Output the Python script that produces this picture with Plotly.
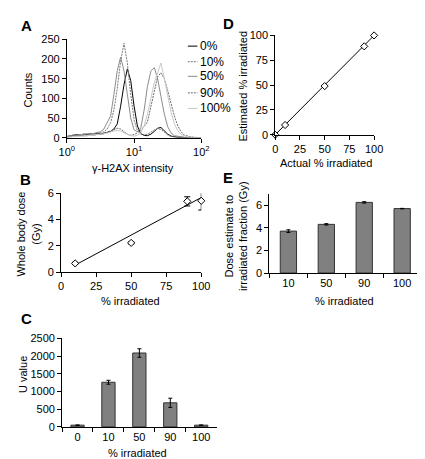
import plotly.graph_objects as go

W, H = 425, 459

# ---------------- Data ----------------
# Panel A: gamma-H2AX intensity histograms
intensity = [1.0, 1.12, 1.26, 1.41, 1.58, 1.78, 2.0, 2.24, 2.51, 2.82, 3.16, 3.55, 3.98, 4.47,
             5.01, 5.62, 6.31, 7.08, 7.94, 8.91, 10.0, 11.2, 12.6, 14.1, 15.8, 17.8, 20.0, 22.4,
             25.1, 28.2, 31.6, 35.5, 39.8, 44.7, 50.1, 56.2, 63.1, 70.8, 79.4, 89.1, 100.0]
hist_names = ["0%", "10%", "50%", "90%", "100%"]
counts_0 = [3, 5, 7, 8, 6, 9, 8, 10, 9, 11, 9, 12, 13, 16, 22, 35, 80, 135, 175, 145, 80, 30, 10,
            6, 5, 9, 16, 24, 26, 18, 9, 4, 2, 1, 1, 0, 0, 0, 0, 0, 0]
counts_10 = [2, 4, 6, 7, 8, 7, 9, 10, 9, 12, 13, 15, 22, 38, 70, 125, 195, 240, 190, 110, 45, 18,
             9, 7, 9, 14, 20, 23, 21, 14, 7, 3, 2, 1, 0, 0, 0, 0, 0, 0, 0]
counts_50 = [3, 5, 7, 6, 8, 9, 10, 9, 11, 13, 15, 22, 38, 55, 110, 170, 205, 170, 110, 50, 20, 15,
             25, 70, 130, 170, 178, 150, 105, 60, 28, 12, 5, 3, 2, 1, 0, 0, 0, 0, 0]
counts_90 = [1, 3, 4, 5, 5, 6, 5, 7, 6, 8, 9, 10, 14, 18, 22, 24, 22, 15, 9, 6, 8, 12, 20, 28,
             40, 80, 125, 155, 165, 150, 120, 85, 55, 30, 15, 6, 3, 2, 1, 0, 0]
counts_100 = [1, 2, 3, 3, 4, 4, 5, 5, 6, 7, 8, 10, 12, 15, 18, 19, 17, 12, 8, 5, 4, 6, 12, 30,
              60, 100, 140, 165, 190, 150, 110, 65, 35, 18, 8, 4, 2, 1, 0, 0, 0]

# Panel B: whole body dose vs % irradiated
b_pct = [10, 50, 90, 100]
b_dose = [0.66, 2.22, 5.38, 5.42]
b_err = [0.08, 0.08, 0.35, 0.7]
b_fit_x = [10, 100]
b_fit_y = [0.53, 5.67]

# Panel C: U value
c_cats = ["0", "10", "50", "90", "100"]
c_u = [50, 1260, 2085, 680, 50]
c_err = [0, 55, 120, 130, 0]

# Panel D: estimated vs actual %
d_actual = [0, 10, 50, 90, 100]
d_est = [0, 9.8, 49, 89, 100]
d_fit_x = [0, 100]
d_fit_y = [0, 100]

# Panel E: dose estimate to irradiated fraction
e_cats = ["10", "50", "90", "100"]
e_dose = [3.72, 4.32, 6.27, 5.72]
e_err = [0.12, 0.06, 0.06, 0.02]

# ---------------- Layout helpers ----------------
FONT = "Liberation Sans, Arial, sans-serif"
TICKF = dict(family=FONT, size=11, color="black")


def px_x(x):
    return x / W


def px_y(y):
    return 1 - y / H


def axis_common(**kw):
    d = dict(showline=True, linecolor="black", linewidth=1, ticks="outside", ticklen=4,
             tickcolor="black", tickwidth=1, showgrid=False, zeroline=False,
             tickfont=TICKF, fixedrange=True)
    d.update(kw)
    return d


fig = go.Figure()

# Panel A
styles = [
    dict(color="black", dash="solid"),
    dict(color="#7a7a7a", dash="2px,1px"),
    dict(color="#8c8c8c", dash="solid"),
    dict(color="#6a6a6a", dash="2px,1px"),
    dict(color="#c8c8c8", dash="solid"),
]
series = [counts_0, counts_10, counts_50, counts_90, counts_100]
for name, ys, st in zip(hist_names, series, styles):
    fig.add_trace(go.Scatter(x=intensity, y=ys, mode="lines", name=name,
                             line=dict(color=st["color"], dash=st["dash"], width=1),
                             xaxis="x", yaxis="y", showlegend=False))

# Panel D
fig.add_trace(go.Scatter(x=d_fit_x, y=d_fit_y, mode="lines", line=dict(color="black", width=1),
                         xaxis="x2", yaxis="y2", showlegend=False))
fig.add_trace(go.Scatter(x=d_actual, y=d_est, mode="markers",
                         marker=dict(symbol="diamond", size=5.5, color="white",
                                     line=dict(color="black", width=1)),
                         xaxis="x2", yaxis="y2", showlegend=False, cliponaxis=False))

# Panel B
fig.add_trace(go.Scatter(x=b_fit_x, y=b_fit_y, mode="lines", line=dict(color="black", width=1),
                         xaxis="x3", yaxis="y3", showlegend=False))
fig.add_trace(go.Scatter(x=b_pct, y=b_dose, mode="markers",
                         marker=dict(symbol="diamond", size=5.5, color="white",
                                     line=dict(color="black", width=1)),
                         error_y=dict(type="data", array=b_err, color="black", thickness=1, width=3),
                         xaxis="x3", yaxis="y3", showlegend=False, cliponaxis=False))

# Panel E
fig.add_trace(go.Bar(x=e_cats, y=e_dose, width=0.43,
                     marker=dict(color="#808080", line=dict(color="#333333", width=1)),
                     error_y=dict(type="data", array=e_err, color="black", thickness=1, width=2),
                     xaxis="x4", yaxis="y4", showlegend=False))

# Panel C
fig.add_trace(go.Bar(x=c_cats, y=c_u, width=0.43,
                     marker=dict(color="#808080", line=dict(color="#333333", width=1)),
                     error_y=dict(type="data", array=c_err, color="black", thickness=1, width=2),
                     xaxis="x5", yaxis="y5", showlegend=False))

fig.update_layout(
    width=W, height=H, margin=dict(l=0, r=0, t=0, b=0),
    paper_bgcolor="white", plot_bgcolor="white",
    font=dict(family=FONT, size=11, color="black"),
    showlegend=False,
    xaxis=axis_common(domain=[px_x(53), px_x(193)], type="log", range=[0, 2],
                      tickvals=[1, 10, 100],
                      ticktext=["10<sup>0</sup>", "10<sup>1</sup>", "10<sup>2</sup>"],
                      anchor="y"),
    yaxis=axis_common(domain=[px_y(127), px_y(26)], range=[0, 250], dtick=50, anchor="x"),
    xaxis2=axis_common(domain=[px_x(270), px_x(373)], range=[0, 100], dtick=25, anchor="y2"),
    yaxis2=axis_common(domain=[px_y(124), px_y(22)], range=[0, 100], dtick=25, anchor="x2"),
    xaxis3=axis_common(domain=[px_x(47), px_x(193)], range=[0, 100], dtick=25, anchor="y3"),
    yaxis3=axis_common(domain=[px_y(265), px_y(184)], range=[0, 6], dtick=2, anchor="x3"),
    xaxis4=axis_common(domain=[px_x(264), px_x(422)], type="category", range=[-0.5, 3.5],
                       tickson="boundaries", anchor="y4"),
    yaxis4=axis_common(domain=[px_y(266), px_y(185)], range=[0, 7], tickvals=[0, 2, 4, 6],
                       anchor="x4"),
    xaxis5=axis_common(domain=[px_x(48), px_x(209)], type="category", range=[-0.5, 4.5],
                       tickson="boundaries", anchor="y5"),
    yaxis5=axis_common(domain=[px_y(424), px_y(333)], range=[0, 2500], dtick=500, anchor="x5"),
)

annotations = []


def txt(text, x, y, size=11, angle=0, bold=False, xanchor="center"):
    annotations.append(dict(text=("<b>%s</b>" % text) if bold else text,
                            x=px_x(x), y=px_y(y), xref="paper", yref="paper",
                            xanchor=xanchor, yanchor="middle", showarrow=False,
                            textangle=angle, font=dict(family=FONT, size=size, color="black")))


# Panel letters
txt("A", 3, 12, size=15, bold=True, xanchor="left")
txt("D", 214, 10, size=15, bold=True, xanchor="left")
txt("B", 2, 170, size=15, bold=True, xanchor="left")
txt("E", 214, 168, size=15, bold=True, xanchor="left")
txt("C", 3, 313, size=15, bold=True, xanchor="left")

# Axis titles
txt("γ-H2AX intensity", 122, 158)
txt("Counts", 12, 78, angle=-90)
txt("Whole body dose<br>(Gy)", 13, 226, angle=-90)
txt("% irradiated", 119, 295)
txt("U value", 8, 370, angle=-90)
txt("% irradiated", 127, 451)
txt("Estimated % irradiated", 237, 74, angle=-90)
txt("Actual % irradiated", 323, 153)
txt("Dose estimate to<br>irradiated fraction (Gy)", 229, 228, angle=-90)
txt("% irradiated", 342, 295)

# Manual legend for panel A
legend_y = [33, 49, 64, 81, 97]
shapes = []
for name, st, ly in zip(hist_names, styles, legend_y):
    shapes.append(dict(type="line", xref="paper", yref="paper",
                       x0=px_x(179), x1=px_x(189), y0=px_y(ly), y1=px_y(ly),
                       line=dict(color=st["color"], dash=st["dash"], width=1)))
    txt(name, 190, ly, size=12, xanchor="left")

fig.update_layout(annotations=annotations, shapes=shapes)

fig.write_html("out.html")
